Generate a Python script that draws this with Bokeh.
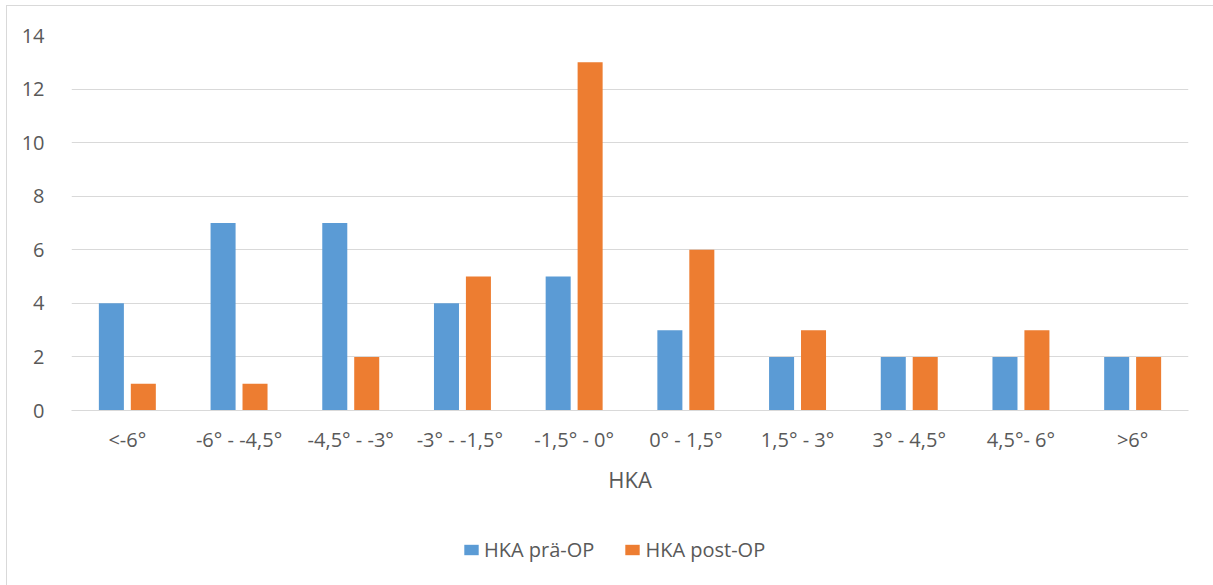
from bokeh.plotting import figure
from bokeh.layouts import column
from bokeh.models import ColumnDataSource, Range1d, FactorRange, FixedTicker, Legend, LegendItem
from bokeh.transform import dodge
from bokeh.embed import file_html
from bokeh.resources import INLINE

categories = ["<-6°", "-6° - -4,5°", "-4,5° - -3°", "-3° -  -1,5°", "-1,5° - 0°",
              "0° - 1,5°", "1,5° - 3°", "3° - 4,5°", "4,5°- 6°", ">6°"]
pre_op = [4, 7, 7, 4, 5, 3, 2, 2, 2, 2]
post_op = [1, 1, 2, 5, 13, 6, 3, 2, 3, 2]
y_ticks = [0, 2, 4, 6, 8, 10, 12, 14]
series_names = ["HKA prä-OP", "HKA post-OP"]
series_colors = ["#5B9BD5", "#ED7D31"]

FONT = "Open Sans"
TXT = "#595959"

src = ColumnDataSource(dict(cat=categories, pre=pre_op, post=post_op))

p = figure(width=1206, height=500, x_range=FactorRange(*categories, range_padding=0),
           y_range=Range1d(0, 14), output_backend="svg", toolbar_location=None,
           min_border_left=64, min_border_right=25, min_border_top=29, min_border_bottom=96)

p.vbar(x=dodge("cat", -0.143, range=p.x_range), top="pre", width=0.224, source=src,
       fill_color=series_colors[0], line_color=None)
p.vbar(x=dodge("cat", 0.143, range=p.x_range), top="post", width=0.224, source=src,
       fill_color=series_colors[1], line_color=None)

p.outline_line_color = None
p.xgrid.grid_line_color = None
p.ygrid.grid_line_color = "#D9D9D9"
p.ygrid.grid_line_width = 1
p.yaxis.ticker = FixedTicker(ticks=y_ticks)
p.yaxis.axis_line_color = None
p.yaxis.major_tick_line_color = None
p.yaxis.minor_tick_line_color = None
p.yaxis.major_label_standoff = 21
p.yaxis.major_label_text_font = FONT
p.yaxis.major_label_text_font_size = "20px"
p.yaxis.major_label_text_color = TXT

p.xaxis.axis_line_color = "#D9D9D9"
p.xaxis.major_tick_line_color = None
p.xaxis.major_label_standoff = 9
p.xaxis.major_label_text_font = FONT
p.xaxis.major_label_text_font_size = "20px"
p.xaxis.major_label_text_color = TXT
p.xaxis.axis_label = "HKA"
p.xaxis.axis_label_text_font = FONT
p.xaxis.axis_label_text_font_size = "22px"
p.xaxis.axis_label_text_font_style = "normal"
p.xaxis.axis_label_text_color = TXT
p.xaxis.axis_label_standoff = 8

# legend strip below the chart (its frame is aligned with the chart's frame)
lg = figure(width=1206, height=79, x_range=Range1d(0, 1), y_range=Range1d(0, 1),
            output_backend="svg", toolbar_location=None,
            min_border=0, min_border_left=0, min_border_right=0,
            min_border_top=0, min_border_bottom=0)
lg.axis.visible = False
lg.grid.visible = False
lg.outline_line_color = None
# legend-only renderers: zero-height bars placed outside the visible range
dummy = [lg.vbar(x=[5], top=[0], width=0.1, fill_color=c, line_color=None) for c in series_colors]
legend = Legend(items=[LegendItem(label=n, renderers=[r]) for n, r in zip(series_names, dummy)],
                orientation="horizontal", location=(391, 22),
                label_text_font=FONT, label_text_font_size="20px", label_text_color=TXT,
                glyph_width=18, glyph_height=13, spacing=29, border_line_color=None,
                background_fill_alpha=0, margin=0, padding=0, label_standoff=4)
lg.add_layout(legend, "center")

layout = column(p, lg, spacing=0,
                styles={"margin-left": "6px", "margin-top": "5px",
                        "border-left": "1px solid #d9d9d9", "border-top": "1px solid #d9d9d9"})

open("out.html", "w").write(file_html(layout, INLINE))
